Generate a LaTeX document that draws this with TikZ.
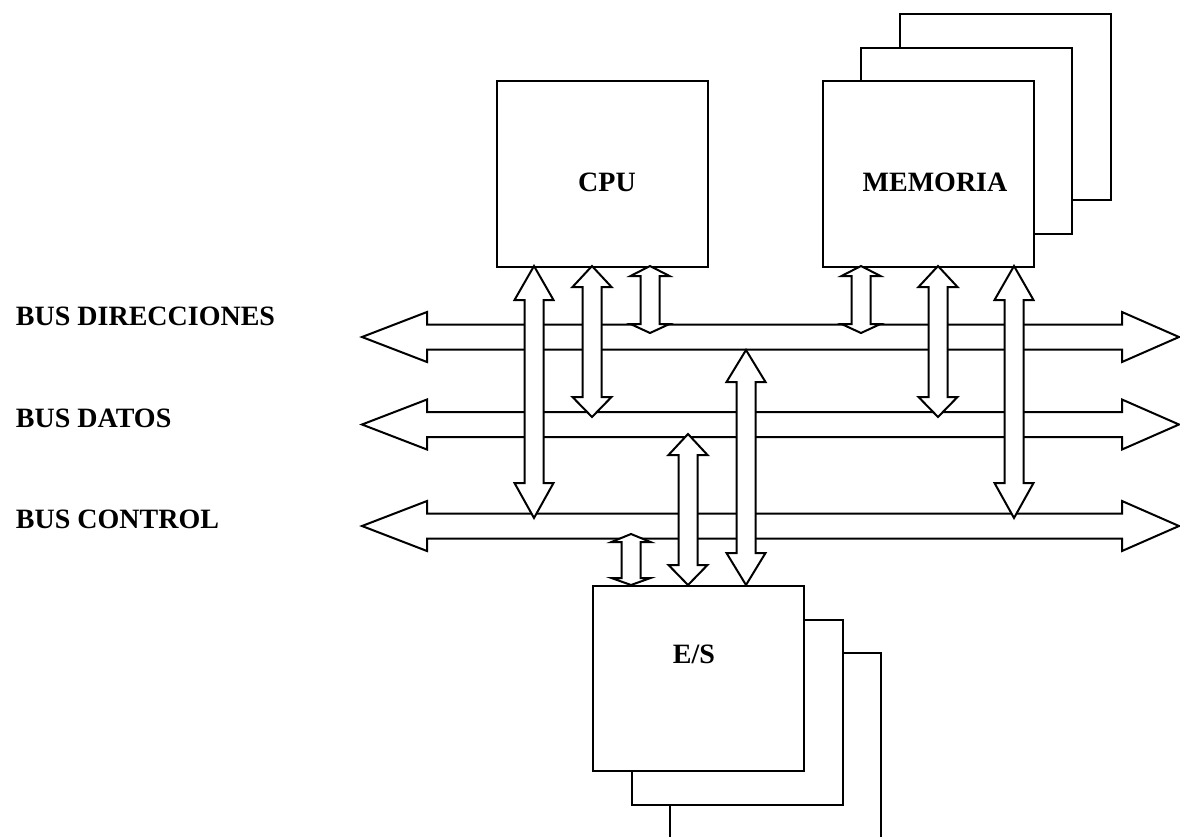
\documentclass[tikz,border=0pt]{standalone}
\usepackage{fontspec}
\setmainfont{Liberation Serif}

% horizontal bus: double-headed wide arrow centred on y = #1
\newcommand\busarrow[1]{%
  \draw[busshape] (362,#1) -- (427,{#1-25}) -- (427,{#1-12.5}) -- (1122,{#1-12.5})
    -- (1122,{#1-25}) -- (1179,#1) -- (1122,{#1+25}) -- (1122,{#1+12.5})
    -- (427,{#1+12.5}) -- (427,{#1+25}) -- cycle;}

% vertical double-headed link: x, top tip, top head base, bottom head base, bottom tip
\newcommand\vlink[5]{%
  \draw[linkshape] (#1,#2) -- ({#1+19.5},#3) -- ({#1+9.5},#3) -- ({#1+9.5},#4)
    -- ({#1+19.5},#4) -- (#1,#5) -- ({#1-19.5},#4) -- ({#1-9.5},#4)
    -- ({#1-9.5},#3) -- ({#1-19.5},#3) -- cycle;}

\begin{document}
\begin{tikzpicture}[x=1pt, y=-1pt, line width=2pt, line join=miter,
  unit/.style={draw, fill=white, minimum width=211pt, minimum height=186pt,
    inner sep=0pt, anchor=north west},
  lbl/.style={font=\fontsize{28}{32}\selectfont\bfseries, inner sep=0pt},
  busshape/.style={draw, fill=white},
  linkshape/.style={draw, fill=white}]

\useasboundingbox (0,0) rectangle (1180,836);
\begin{scope}
\clip (0,0) rectangle (1180,836);

% CPU
\node[unit] (cpu) at (496,80) {};
\node[lbl, anchor=base] (cputxt) at (607,191) {CPU};

% memory modules, back to front
\node[unit] (mem3) at (899,13) {};
\node[unit] (mem2) at (860,47) {};
\node[unit] (mem) at (822,80) {};
\node[lbl, anchor=base] (memtxt) at (935,191) {MEMORIA};

% I/O modules, back to front
\node[unit, minimum height=200pt] (es3) at (669,652) {};
\node[unit, minimum height=185pt] (es2) at (631,619) {};
\node[unit, minimum height=185pt] (es) at (592,585) {};
\node[lbl, anchor=base] (estxt) at (694,663) {E/S};

% buses
\busarrow{337}
\busarrow{424.5}
\busarrow{526}

\node[lbl, anchor=base west] (ldir) at (15,325) {BUS DIRECCIONES};
\node[lbl, anchor=base west] (ldat) at (15,427) {BUS DATOS};
\node[lbl, anchor=base west] (lctl) at (15,528) {BUS CONTROL};

% CPU links
\vlink{534}{266}{300}{483}{518}
\vlink{592}{266}{287}{397}{417}
\vlink{650}{266}{276}{324}{333}

% memory links
\vlink{861}{266}{276}{324}{333}
\vlink{938}{266}{287}{397}{417}
\vlink{1014}{266}{300}{483}{518}

% I/O links
\vlink{631}{534}{542}{578}{585}
\vlink{688}{434}{455}{565}{585}
\vlink{746}{350}{382}{553}{585}
\end{scope}
\end{tikzpicture}
\end{document}
